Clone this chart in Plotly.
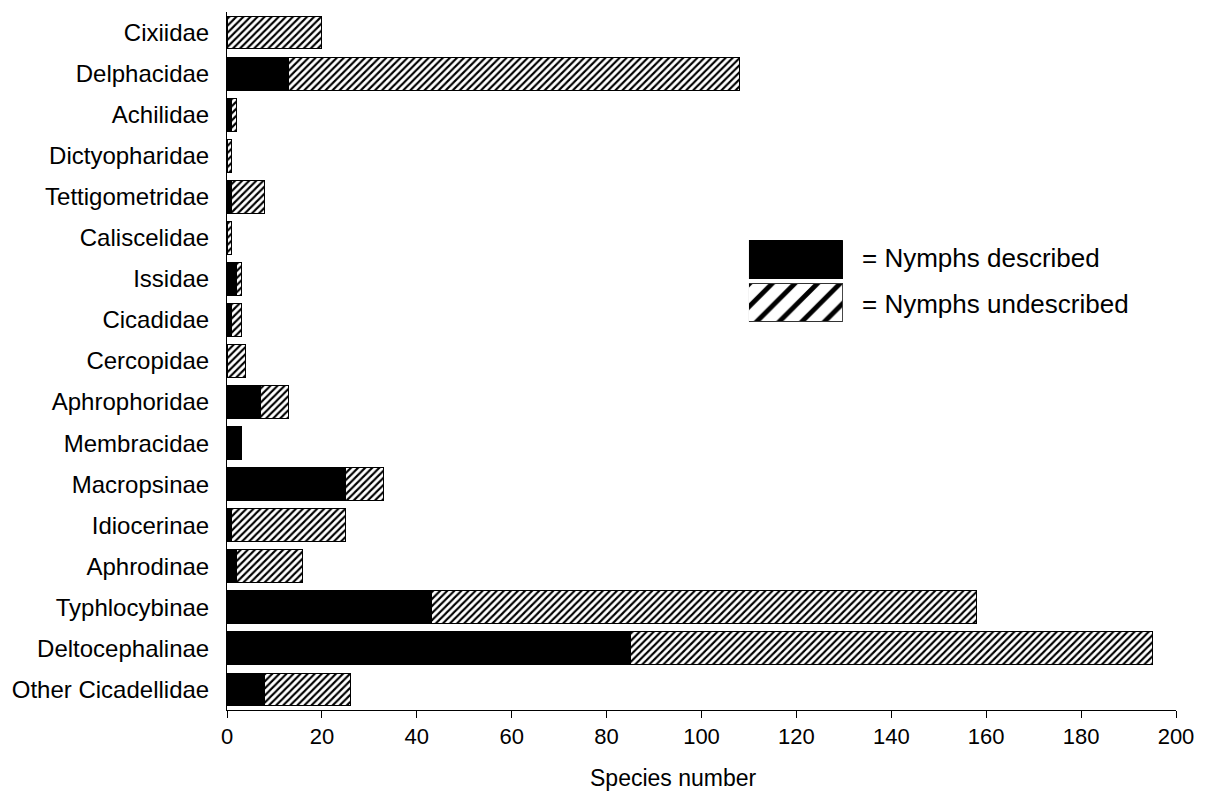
import plotly.graph_objects as go

categories = ["Cixiidae", "Delphacidae", "Achilidae", "Dictyopharidae", "Tettigometridae",
              "Caliscelidae", "Issidae", "Cicadidae", "Cercopidae", "Aphrophoridae",
              "Membracidae", "Macropsinae", "Idiocerinae", "Aphrodinae", "Typhlocybinae",
              "Deltocephalinae", "Other Cicadellidae"]
described = [0, 13, 1, 0, 1, 0, 2, 1, 0, 7, 3, 25, 1, 2, 43, 85, 8]
undescribed = [20, 95, 1, 1, 7, 1, 1, 2, 4, 6, 0, 8, 24, 14, 115, 110, 18]
legend_labels = ["= Nymphs described", "= Nymphs undescribed"]

FONT = "Liberation Sans, Arial, sans-serif"

fig = go.Figure()
fig.add_trace(go.Bar(
    y=categories, x=described, orientation="h", name=legend_labels[0],
    marker=dict(color="black", line=dict(color="black", width=1)),
    showlegend=False,
))
fig.add_trace(go.Bar(
    y=categories, x=undescribed, orientation="h", name=legend_labels[1],
    marker=dict(color="white", line=dict(color="black", width=1),
                pattern=dict(shape="/", fgcolor="black", bgcolor="white",
                             size=5, solidity=0.42, fillmode="replace")),
    showlegend=False,
))

# Legend swatches on an auxiliary axis pair
fig.add_trace(go.Bar(
    y=[0], x=[1], orientation="h", width=0.9, xaxis="x2", yaxis="y2",
    marker=dict(color="black", line=dict(color="black", width=1)), showlegend=False,
    hoverinfo="skip",
))
fig.add_trace(go.Bar(
    y=[1], x=[1], orientation="h", width=0.9, xaxis="x2", yaxis="y2",
    marker=dict(color="white", line=dict(color="#333", width=1),
                pattern=dict(shape="/", fgcolor="black", bgcolor="white",
                             size=16, solidity=0.3, fillmode="replace")),
    showlegend=False, hoverinfo="skip",
))

legend_y = [0.6476, 0.5817]
for lab, yy in zip(legend_labels, legend_y):
    fig.add_annotation(x=0.667, y=yy, xref="paper", yref="paper", text=lab, showarrow=False,
                       xanchor="left", yanchor="middle",
                       font=dict(family=FONT, size=26, color="black"))

# x-axis title (slightly left of plot centre, as in the original)
fig.add_annotation(x=0.471, y=-0.097, xref="paper", yref="paper", text="Species number",
                   showarrow=False, xanchor="center", yanchor="middle",
                   font=dict(family=FONT, size=23, color="black"))

fig.update_layout(
    width=1191, height=785,
    margin=dict(l=219, r=23, t=4, b=83),
    plot_bgcolor="white", paper_bgcolor="white",
    barmode="stack", bargap=0.2,
    font=dict(family=FONT, size=23, color="black"),
    xaxis=dict(range=[0, 200], tickmode="linear", tick0=0, dtick=20,
               showline=True, linecolor="black", linewidth=1,
               ticks="outside", ticklen=7, tickcolor="black",
               tickfont=dict(size=22),
               showgrid=False, zeroline=False),
    yaxis=dict(autorange="reversed", showline=True, linecolor="black", linewidth=1,
               ticks="", showgrid=False, zeroline=False, ticklabelstandoff=12,
               tickfont=dict(size=24)),
    xaxis2=dict(domain=[0.550, 0.649], range=[0, 1], visible=False, anchor="y2"),
    yaxis2=dict(domain=[0.554, 0.675], range=[1.5, -0.5], visible=False, anchor="x2"),
)

fig.write_html("out.html")
